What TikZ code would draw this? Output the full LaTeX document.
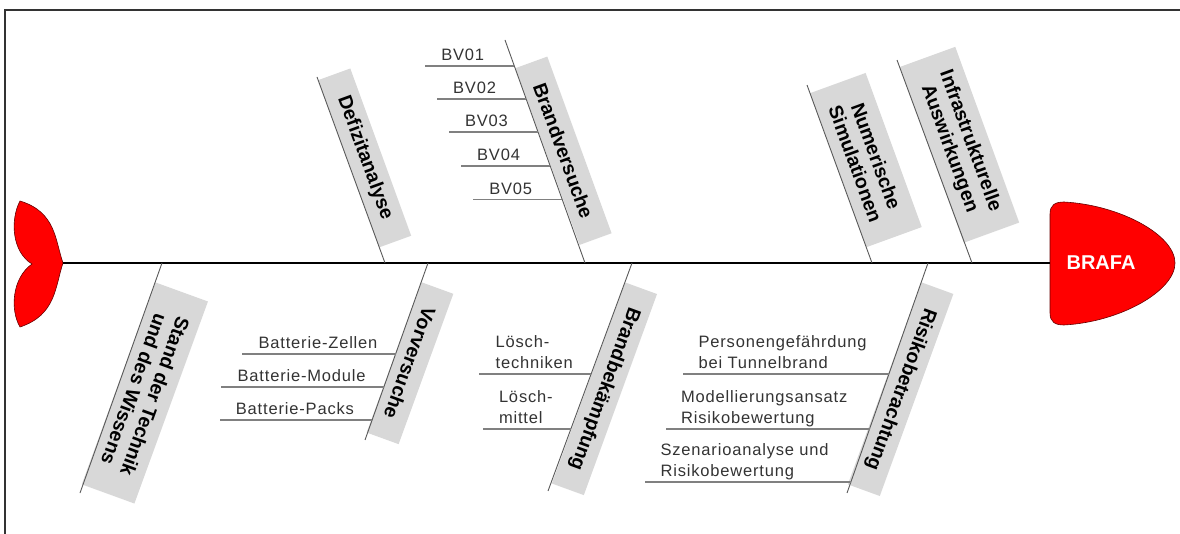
\documentclass[tikz,border=0pt]{standalone}
\usepackage{fontspec}
\setmainfont{Liberation Sans}
\newfontfamily\sublabelfont[LetterSpace=5]{Liberation Sans}
\usetikzlibrary{calc, positioning}
\definecolor{boxgray}{RGB}{216,216,216}
\definecolor{fishred}{RGB}{255,0,0}
\tikzset{
    bonebox/.style={fill=boxgray, inner sep=0pt, minimum height=34pt, align=center,
        anchor=south west, font=\fontsize{19.5}{22}\selectfont\bfseries},
    boneline/.style={draw=black!65, line width=0.9pt},
    subline/.style={draw=black!50, line width=1.2pt},
    sublabel/.style={anchor=south east, align=left, inner xsep=0pt, inner ysep=5pt,
        text depth=0pt, text=black!80, font=\sublabelfont\fontsize{16.5}{21.5}\selectfont},
% >=latex,
}

\begin{document}
\begin{tikzpicture}[x=1pt, y=-1pt]

    \useasboundingbox (0,0) rectangle (1180,534);

    % Frame
    \draw [line width=1.5pt, black!80] (5,534) -- (5,10) -- (1180,10);

    % Tail and head
    \draw [fill=fishred, draw=black!60!red, line width=0.6pt]
        (63,263) .. controls (55,240) and (56,212) .. (20,201)
        .. controls (10,220) and (12,252) .. (32,264)
        .. controls (12,278) and (10,310) .. (20,327)
        .. controls (56,315) and (55,287) .. (63,263) -- cycle;
    \draw [fill=fishred, draw=black!60!red, line width=0.6pt]
        (1050,263) -- (1050,214) .. controls (1050,205) and (1055,202) .. (1064,202)
        .. controls (1120,205) and (1175,235) .. (1175,263)
        .. controls (1175,291) and (1120,322) .. (1064,325)
        .. controls (1055,325) and (1050,322) .. (1050,313) -- cycle;
    \node (brafa) at (1101,263) [text=white, font=\fontsize{20}{24}\selectfont\bfseries] {BRAFA};

    % Spine
    \coordinate (tailtip) at (63,263);
    \coordinate (headleft) at (1050,263);
    \draw [line width=2pt] (tailtip) -- (headleft);

    % Bone ends
    \coordinate (defT) at (317,77);   \coordinate (defS) at (385,263);
    \coordinate (brvT) at (505,40);   \coordinate (brvS) at (585,263);
    \coordinate (numT) at (807,85);   \coordinate (numS) at (872,263);
    \coordinate (infT) at (897,60);   \coordinate (infS) at (972,263);
    \coordinate (stdS) at (162,263);  \coordinate (stdB) at (80,493);
    \coordinate (vorS) at (428,263);  \coordinate (vorB) at (365,440);
    \coordinate (bbkS) at (632,263);  \coordinate (bbkB) at (548,491);
    \coordinate (rskS) at (928,263);  \coordinate (rskB) at (847,493);

    % Boxes
    \node (def) [bonebox, rotate=-70, minimum width=178pt] at ($(defT)!0.016!(defS)$) {Defizitanalyse};
    \node (brv) [bonebox, rotate=-70, minimum width=188pt] at ($(brvT)!0.126!(brvS)$) {Brandversuche};
    \node (num) [bonebox, rotate=-70, minimum width=164pt, minimum height=59pt] at ($(numT)!0.045!(numS)$) {Numerische\\Simulationen};
    \node (inf) [bonebox, rotate=-70, minimum width=187pt, minimum height=59pt] at ($(infT)!0.034!(infS)$) {Infrastrukturelle\\Auswirkungen};
    \node (std) [bonebox, rotate=-110, minimum width=215pt, minimum height=56pt] at ($(stdS)!0.083!(stdB)$) {Stand der Technik\\und des Wissens};
    \node (vor) [bonebox, rotate=-110, minimum width=160pt] at ($(vorS)!0.107!(vorB)$) {Vorversuche};
    \node (bbk) [bonebox, rotate=-110, minimum width=214pt] at ($(bbkS)!0.084!(bbkB)$) {Brandbek\"ampfung};
    \node (rsk) [bonebox, rotate=-110, minimum width=215pt] at ($(rskS)!0.083!(rskB)$) {Risikobetrachtung};

    % Bones
    \draw [boneline] (defT) -- (defS);
    \draw [boneline] (brvT) -- (brvS);
    \draw [boneline] (numT) -- (numS);
    \draw [boneline] (infT) -- (infS);
    \draw [boneline] (stdS) -- (stdB);
    \draw [boneline] (vorS) -- (vorB);
    \draw [boneline] (bbkS) -- (bbkB);
    \draw [boneline] (rskS) -- (rskB);

    % Sub-bones: Brandversuche
    \coordinate (bv1) at ($(brvT)!0.117!(brvS)$);
    \coordinate (bv2) at ($(brvT)!0.265!(brvS)$);
    \coordinate (bv3) at ($(brvT)!0.413!(brvS)$);
    \coordinate (bv4) at ($(brvT)!0.565!(brvS)$);
    \coordinate (bv5) at ($(brvT)!0.717!(brvS)$);
    \node (bv01) [sublabel] at ($(bv1)+(-30,0)$) {BV01};
    \node (bv02) [sublabel] at ($(bv2)+(-30,0)$) {BV02};
    \node (bv03) [sublabel] at ($(bv3)+(-30,0)$) {BV03};
    \node (bv04) [sublabel] at ($(bv4)+(-30,0)$) {BV04};
    \node (bv05) [sublabel] at ($(bv5)+(-30,0)$) {BV05};
    \draw [subline] (bv1) -- ($(bv01.west |- bv1)+(-16,0)$);
    \draw [subline] (bv2) -- ($(bv02.west |- bv2)+(-16,0)$);
    \draw [subline] (bv3) -- ($(bv03.west |- bv3)+(-16,0)$);
    \draw [subline] (bv4) -- ($(bv04.west |- bv4)+(-16,0)$);
    \draw [subline] (bv5) -- ($(bv05.west |- bv5)+(-16,0)$);

    % Sub-bones: Vorversuche
    \coordinate (vv1) at ($(vorS)!0.514!(vorB)$);
    \coordinate (vv2) at ($(vorS)!0.701!(vorB)$);
    \coordinate (vv3) at ($(vorS)!0.887!(vorB)$);
    \node (zellen) [sublabel] at ($(vv1)+(-18,0)$) {Batterie-Zellen};
    \node (module) [sublabel] at ($(vv2)+(-18,0)$) {Batterie-Module};
    \node (packs)  [sublabel] at ($(vv3)+(-18,0)$) {Batterie-Packs};
    \draw [subline] (vv1) -- ($(zellen.west |- vv1)+(-16,0)$);
    \draw [subline] (vv2) -- ($(module.west |- vv2)+(-16,0)$);
    \draw [subline] (vv3) -- ($(packs.west |- vv3)+(-16,0)$);

    % Sub-bones: Brandbekaempfung
    \coordinate (bb1) at ($(bbkS)!0.487!(bbkB)$);
    \coordinate (bb2) at ($(bbkS)!0.728!(bbkB)$);
    \node (technik) [sublabel] at ($(bb1)+(-18,0)$) {L\"osch-\\techniken};
    \node (mittel)  [sublabel] at ($(bb2)+(-18,0)$) {L\"osch-\\mittel};
    \draw [subline] (bb1) -- ($(technik.west |- bb1)+(-16,0)$);
    \draw [subline] (bb2) -- ($(mittel.west |- bb2)+(-16,0)$);

    % Sub-bones: Risikobetrachtung
    \coordinate (rk1) at ($(rskS)!0.483!(rskB)$);
    \coordinate (rk2) at ($(rskS)!0.722!(rskB)$);
    \coordinate (rk3) at ($(rskS)!0.952!(rskB)$);
    \node (person)  [sublabel] at ($(rk1)+(-22,0)$) {Personengef\"ahrdung\\bei Tunnelbrand};
    \node (modell)  [sublabel] at ($(rk2)+(-22,0)$) {Modellierungsansatz\\Risikobewertung};
    \node (szenario) [sublabel] at ($(rk3)+(-22,0)$) {Szenarioanalyse und\\Risikobewertung};
    \draw [subline] (rk1) -- ($(person.west |- rk1)+(-15,0)$);
    \draw [subline] (rk2) -- ($(modell.west |- rk2)+(-15,0)$);
    \draw [subline] (rk3) -- ($(szenario.west |- rk3)+(-15,0)$);

\end{tikzpicture}
\end{document}
